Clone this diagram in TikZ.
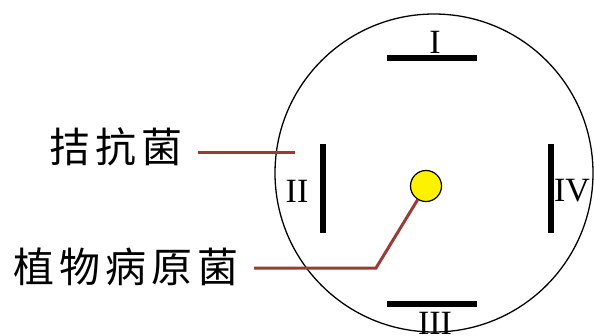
\documentclass[tikz,border=0pt]{standalone}
\usepackage{fontspec}
\setmainfont{Liberation Serif}
\newfontfamily\cjk{Noto Sans CJK SC}
\definecolor{brn}{HTML}{993B37}
\newcommand{\cjkgap}{\kern5pt}
\begin{document}
\begin{tikzpicture}[x=1pt,y=-1pt,
  bar/.style={line width=5.5pt},
  lead/.style={brn,line width=3pt},
  roman/.style={font=\fontsize{34}{34}\selectfont,inner sep=0pt},
  cjklabel/.style={font=\cjk\fontsize{41}{41}\selectfont,inner sep=0pt}]
\useasboundingbox (0,0) rectangle (594,335);
\draw[line width=1.3pt] (434,173) circle[radius=159];
\draw[bar] (387,58) -- (477,58);
\draw[bar] (387,304) -- (477,304);
\draw[bar] (323,144) -- (323,233);
\draw[bar] (551,144) -- (551,233);
\node[roman] (r1) at (435,42) {I};
\node[roman] (r3) at (435,323) {III};
\node[roman] (r2) at (297,191) {II};
\node[roman] (r4) at (572,191) {IV};
\node[cjklabel] (t1) at (116,147) {拮\cjkgap 抗\cjkgap 菌};
\node[cjklabel] (t2) at (126,267) {植\cjkgap 物\cjkgap 病\cjkgap 原\cjkgap 菌};
\node[circle,fill=yellow,draw=black,line width=1.2pt,minimum size=31pt,inner sep=0pt] (yc) at (426,186) {};
\coordinate (a1) at (198,152);
\coordinate (a2) at (295,152);
\coordinate (b1) at (254,268);
\coordinate (b2) at (376,268);
\draw[lead] (a1) -- (a2);
\draw[lead] (b1) -- (b2) -- (yc);
\end{tikzpicture}
\end{document}
